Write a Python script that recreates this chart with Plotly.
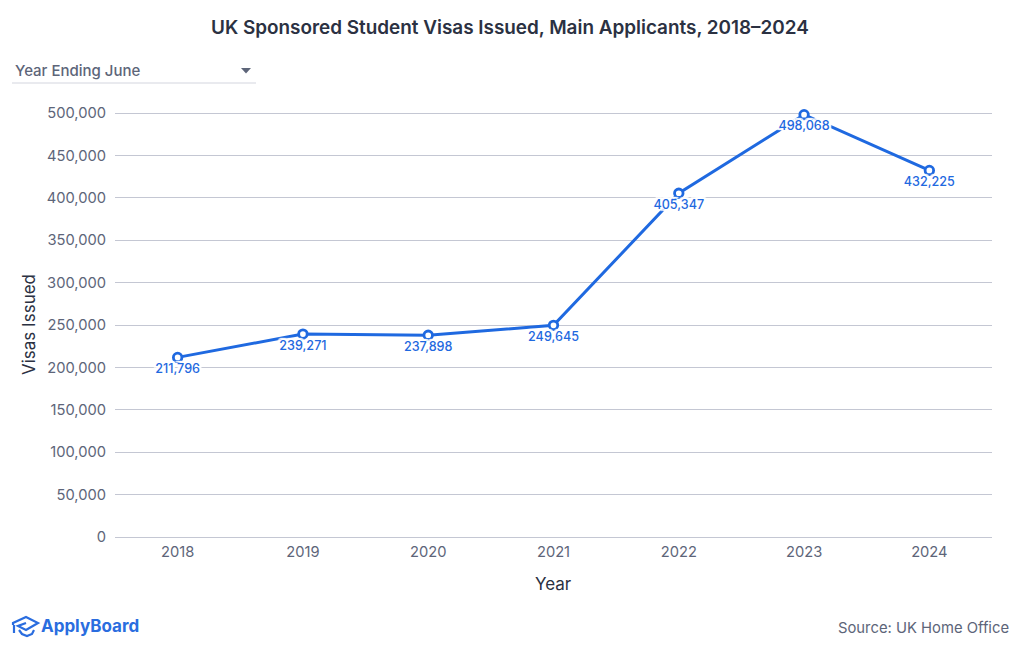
import plotly.graph_objects as go

FONT = "Inter"
BLUE = "#1f69e0"
GRID = "#c4c7d3"
TICK = "#5d6579"

years = ["2018", "2019", "2020", "2021", "2022", "2023", "2024"]
visas = [211796, 239271, 237898, 249645, 405347, 498068, 432225]
y_ticks = [0, 50000, 100000, 150000, 200000, 250000, 300000, 350000, 400000, 450000, 500000]

# the page body has an 8px margin, so the figure starts at (8, 8) in the window
PAGE = 8
W, H = 1004, 634
L, R, T, B = 107, 20, 102, 105


def px(x):
    return (x - PAGE - L) / (W - L - R)


def py(y):
    return 1 - (y - PAGE - T) / (H - T - B)


def path(points, close=False):
    s = "M" + " L".join(f"{px(x):.5f},{py(y):.5f}" for x, y in points)
    return s + (" Z" if close else "")


halo = "-2px 0 1px #fff, 2px 0 1px #fff, 0 -2px 1px #fff, 0 2px 1px #fff, -2px -2px 1px #fff, 2px -2px 1px #fff, -2px 2px 1px #fff, 2px 2px 1px #fff"

fig = go.Figure(go.Scatter(
    x=years,
    y=visas,
    mode="lines+markers+text",
    line=dict(color=BLUE, width=3),
    marker=dict(size=8.5, color="white", line=dict(color=BLUE, width=2.8)),
    text=[f"{v:,}" for v in visas],
    textposition="bottom center",
    textfont=dict(family=FONT, size=12.6, color=BLUE, weight=500, shadow=halo),
    cliponaxis=False,
    showlegend=False,
))

fig.update_layout(
    width=W,
    height=H,
    margin=dict(l=L, r=R, t=T, b=B),
    paper_bgcolor="white",
    plot_bgcolor="white",
    font=dict(family=FONT, color=TICK),
    xaxis=dict(
        type="category",
        range=[-0.5, 6.5],
        showgrid=False,
        showline=False,
        ticks="",
        tickfont=dict(size=14.7, color=TICK),
        ticklabelstandoff=4,
    ),
    yaxis=dict(
        # 3px of headroom: plotly drops gridlines within 1px of the range edge
        range=[0, 503538],
        tickvals=y_ticks,
        tickformat=",",
        gridcolor=GRID,
        gridwidth=1,
        zeroline=True,
        zerolinecolor=GRID,
        zerolinewidth=1,
        showline=False,
        ticks="",
        tickfont=dict(size=14.7, color=TICK),
        ticklabelstandoff=8,
    ),
)


def label(text, x, y, size, color, weight=400, anchor="center", angle=0):
    fig.add_annotation(
        text=text, x=px(x), y=py(y), xref="paper", yref="paper",
        xanchor=anchor, yanchor="middle", showarrow=False, textangle=angle,
        font=dict(family=FONT, size=size, color=color, weight=weight),
    )


label("UK Sponsored Student Visas Issued, Main Applicants, 2018–2024", 510, 27, 18.9, "#2b3142", 600)
label("Year Ending June", 12.5, 70.5, 15, TICK, 500, "left")
label("Visas Issued", 29, 325, 17, "#2b3142", 400, angle=-90)
label("Year", 553, 584, 17, "#2b3142")
label("Source: UK Home Office", 1011, 628, 14.8, TICK, 400, "right")
label("ApplyBoard", 39, 626, 17, "#2a6ddf", 700, "left")

# dropdown underline and arrow
fig.add_shape(type="line", xref="paper", yref="paper", x0=px(12), x1=px(256), y0=py(83), y1=py(83),
              line=dict(color="#d3d5de", width=1))
fig.add_shape(type="path", xref="paper", yref="paper", path=path([(241, 68), (251, 68), (246, 73.5)], True),
              fillcolor=TICK, line=dict(width=0))

# logo: graduation cap
cap = dict(type="path", xref="paper", yref="paper", line=dict(color="#2a6ddf", width=2.2))
fig.add_shape(path=path([(13, 625), (13, 623), (26, 617), (38, 623), (26, 630), (18, 626), (26, 623)]), **cap)
fig.add_shape(path=path([(14, 625), (14, 633)]), **cap)
fig.add_shape(path=path([(19, 630), (22, 634), (27, 636), (32, 634), (34, 630)]), **cap)

fig.write_html("out.html")
